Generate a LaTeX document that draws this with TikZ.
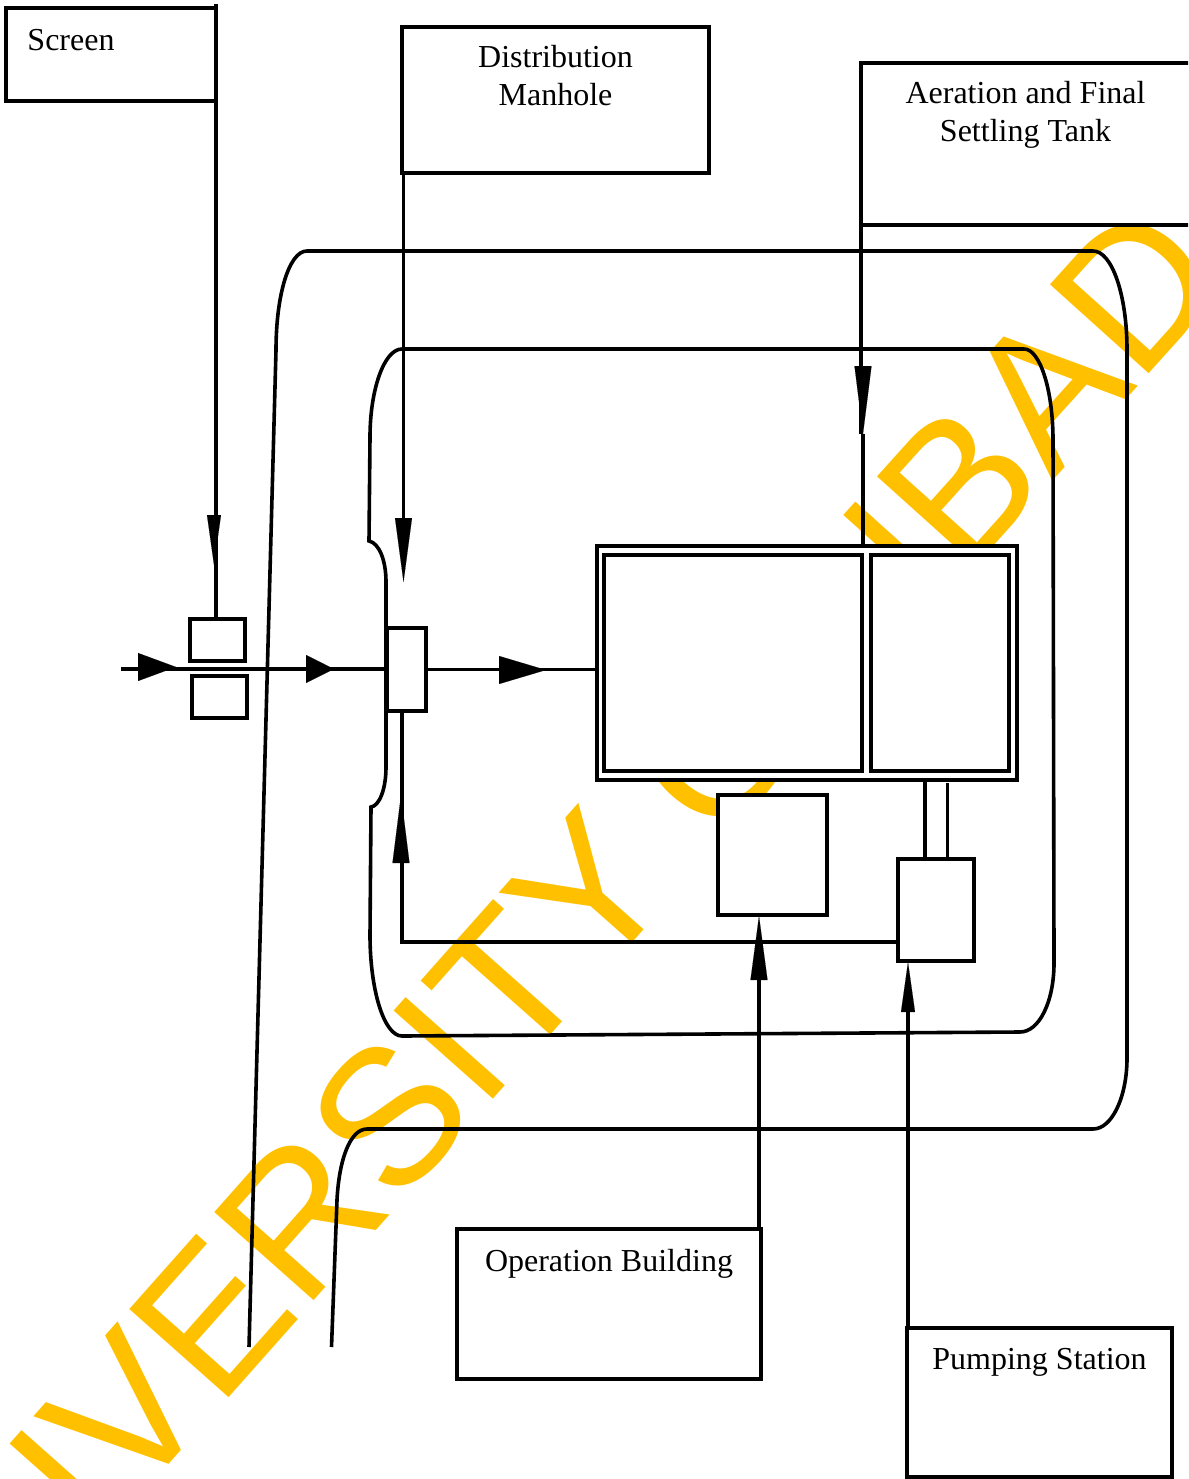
\documentclass[tikz,border=0pt]{standalone}
\usepackage{fontspec}
\setmainfont{Liberation Serif}
\newfontfamily\wmfont{Liberation Sans}
\usetikzlibrary{arrows.meta}
\tikzset{
  ln/.style={draw=black,line width=3.8pt,line cap=butt,line join=miter},
  thin ln/.style={ln,line width=3.6pt},
  boxst/.style={draw=black,fill=white,line width=3.5pt,inner sep=0pt,outer sep=0pt,rectangle},
  lab/.style={inner sep=0pt,outer sep=0pt,align=center,text=black,font=\fontsize{32}{38}\selectfont},
  wm/.style={inner sep=0pt,outer sep=0pt,anchor=base west,text={rgb,255:red,255;green,192;blue,0},font=\wmfont\fontsize{193}{193}\selectfont},
  tip/.style={draw=black,fill=black,line width=0.1pt},
  tipA/.style={tip,-{Triangle[length=50pt,width=14pt,fill=black]}},
  tipB/.style={tip,-{Triangle[length=28pt,width=28pt,fill=black]}},
  tipC/.style={tip,-{Triangle[length=38pt,width=28pt,fill=black]}},
  tipD/.style={tip,-{Triangle[length=47pt,width=28pt,fill=black]}},
  tipE/.style={tip,-{Triangle[length=64pt,width=17pt,fill=black]}},
  tipF/.style={tip,-{Triangle[length=68pt,width=17pt,fill=black]}},
}
\newcommand{\pxbox}[5]{%
  \pgfmathsetmacro{\bw}{#4-#2}\pgfmathsetmacro{\bh}{#5-#3}%
  \node[boxst,minimum width=\bw pt,minimum height=\bh pt] (#1) at ({(#2+#4)/2},{(#3+#5)/2}) {};}
\begin{document}
\begin{tikzpicture}[x=1pt,y=-1pt]
\useasboundingbox (0,0) rectangle (1188,1479);
\clip (0,0) rectangle (1188,1479);
% watermark
\begin{scope}
\clip (0,225) rectangle (1188,1479);
\node[wm,rotate=48.4] (watermarkA) at (-88,1754) {UNIVERSITY OF};
\node[wm,rotate=48] (watermarkB) at (930,617) {IBADAN};
\end{scope}

% free ends and way points
\coordinate (scrTop) at (216,4);
\coordinate (outA) at (249,1347);
\coordinate (outB) at (276,350);
\coordinate (outC) at (307,251);
\coordinate (outD) at (1093,251);
\coordinate (outE) at (1127,350);
\coordinate (outF) at (1127,1058);
\coordinate (outG) at (1093,1129);
\coordinate (outH) at (367,1129);
\coordinate (outI) at (337,1200);
\coordinate (outJ) at (331.5,1347);
\coordinate (inA) at (402,349);
\coordinate (inB) at (1024,349);
\coordinate (inC) at (1053,440);
\coordinate (inD) at (1054,963);
\coordinate (inE) at (1020,1032);
\coordinate (inF) at (402,1036);
\coordinate (inG) at (370,935);
\coordinate (inH) at (371,807);
\coordinate (inI) at (386,767);
\coordinate (inJ) at (386,582);
\coordinate (inK) at (369,541);
\coordinate (inL) at (370,437);
\coordinate (feed) at (121,669);
\coordinate (ret) at (402,942);

% main rings
\draw[thin ln] (outA) -- (outB) .. controls (276,295) and (289,251) .. (outC) -- (outD)
  .. controls (1112,251) and (1127,295) .. (outE) -- (outF)
  .. controls (1127,1097) and (1112,1129) .. (outG) -- (outH)
  .. controls (350,1129) and (339,1160) .. (outI) -- (outJ);
\draw[thin ln] (inA) -- (inB) .. controls (1040,349) and (1053,390) .. (inC) -- (inD)
  .. controls (1054,1002) and (1039,1032) .. (inE) -- (inF)
  .. controls (384,1036) and (370,990) .. (inG) -- (inH)
  .. controls (379,806) and (386,790) .. (inI) -- (inJ)
  .. controls (386,560) and (379,543) .. (inK) -- (inL)
  .. controls (370,390) and (384,349) .. (inA) -- cycle;

% boxes
\pxbox{screen}{6}{8}{216}{101}
\pxbox{manhole}{402}{27}{709}{173}
\pxbox{tank}{861}{63}{1195}{225}
\pxbox{building}{457}{1229}{761}{1379}
\pxbox{station}{907}{1328}{1172}{1477}
\pxbox{gateU}{190}{619}{245}{661}
\pxbox{gateL}{192}{676}{247}{718}
\pxbox{dist}{387}{628}{426}{711}
\pxbox{main}{597}{546}{1017}{780}
\pxbox{cellL}{604}{555}{862}{771}
\pxbox{cellR}{871}{555}{1009}{771}
\pxbox{blockA}{718}{795}{827}{915}
\pxbox{blockB}{898}{859}{974}{961}

% labels
\node[lab] (screenT) at (71,40) {Screen};
\node[lab] (manholeT) at (555.5,76) {Distribution\\Manhole};
\node[lab] (tankT) at (1025.5,115) {Aeration and Final\\Settling Tank};
\node[lab] (buildingT) at (609,1264) {Operation Building};
\node[lab] (stationT) at (1039.5,1362.5) {Pumping Station};

% leader lines
\draw[ln] (scrTop) -- (scrTop |- gateU.north);
\coordinate (mhDown) at (403.5,520);
\draw[ln] (mhDown |- manhole.south) -- (mhDown);
\coordinate (tkA) at (861,434);
\coordinate (tkB) at (863,434);
\draw[ln] (tkA |- tank.north) -- (tkA);
\draw[ln] (tkB) -- (tkB |- main.north);
\coordinate (blA) at (759,980);
\draw[ln] (blA) -- (blA |- building.north);
\coordinate (blB) at (908,1010);
\draw[ln] (blB) -- (blB |- station.north);
\draw[ln] (feed) -- (feed -| dist.west);
\draw[ln] (dist.east) -- (dist.east -| main.west);
\draw[ln] (dist.south -| ret) -- (ret) -- (ret -| blockB.west);
\coordinate (linkA) at (925,780);
\coordinate (linkB) at (947.5,783);
\draw[ln] (linkA) -- (linkA |- blockB.north);
\draw[ln] (linkB) -- (linkB |- blockB.north);

% arrowheads
\coordinate (h1a) at (214,515); \coordinate (h1b) at (214,565);
\draw[tipA] (h1a) -- (h1b);
\coordinate (h2a) at (403.5,518); \coordinate (h2b) at (403.5,582);
\draw[tipE] (h2a) -- (h2b);
\coordinate (h3a) at (863,366); \coordinate (h3b) at (863,434);
\draw[tipF] (h3a) -- (h3b);
\coordinate (h4a) at (138,667); \coordinate (h4b) at (176,667);
\draw[tipC] (h4a) -- (h4b);
\coordinate (h5a) at (306,669); \coordinate (h5b) at (334,669);
\draw[tipB] (h5a) -- (h5b);
\coordinate (h6a) at (499,670); \coordinate (h6b) at (546,670);
\draw[tipD] (h6a) -- (h6b);
\coordinate (h7a) at (401,861); \coordinate (h7b) at (401,795);
\draw[tipF] (h7a) -- (h7b);
\coordinate (h8a) at (759,980); \coordinate (h8b) at (759,916);
\draw[tipE] (h8a) -- (h8b);
\coordinate (h9a) at (908,1010); \coordinate (h9b) at (908,962);
\draw[tipA] (h9a) -- (h9b);
\end{tikzpicture}
\end{document}
